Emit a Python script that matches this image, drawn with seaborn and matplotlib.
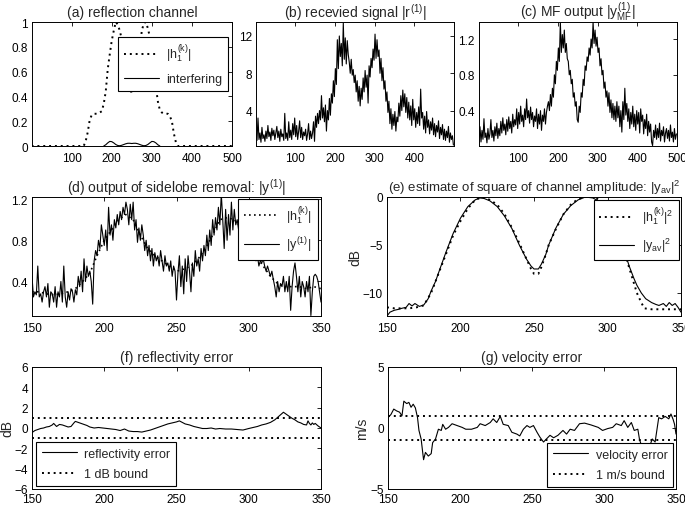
import numpy as np
import matplotlib
matplotlib.use("Agg")
import matplotlib.pyplot as plt
import seaborn as sns

# ---------------- data ----------------
# (a) reflection channel, sampled every 5 range bins from 0 to 500
a_x = np.arange(0, 501, 5)
a_h1 = ([0.0] * 26 +
        [0.0, 0.04, 0.11, 0.21, 0.25, 0.26, 0.26, 0.26, 0.27, 0.28,
         0.34, 0.44, 0.62, 0.74, 0.85, 0.93, 1.0, 0.98, 0.93, 0.86,
         0.77, 0.66, 0.56, 0.48, 0.42, 0.47, 0.56, 0.67, 0.79, 0.93,
         0.99, 1.0, 0.95, 0.88, 0.78, 0.64, 0.48, 0.36, 0.29, 0.27,
         0.26, 0.26, 0.26, 0.24, 0.2, 0.1, 0.03, 0.0] +
        [0.0] * 27)
a_int_x = np.arange(180, 321, 5)
a_int = [0.0, 0.01, 0.025, 0.037, 0.035, 0.025, 0.012, 0.004, 0.002, 0.006,
         0.012, 0.018, 0.022, 0.022, 0.02, 0.022, 0.022, 0.018, 0.012, 0.006,
         0.002, 0.004, 0.012, 0.025, 0.037, 0.035, 0.025, 0.01, 0.0]

# (b) received signal |r(1)|, every 2.5 bins
b_x = np.arange(200) * 2.5 + 1
b_r = [1.5, 0.8, 3.2, 0.9, 1.6, 0.6, 2.2, 1.0, 1.4, 0.7,
       1.8, 1.0, 2.4, 1.2, 1.7, 0.8, 2.1, 1.3, 1.9, 0.9,
       1.6, 2.3, 1.1, 1.8, 0.7, 2.0, 1.2, 1.5, 0.8, 3.7,
       1.0, 1.6, 0.8, 2.8, 1.1, 1.9, 0.9, 2.6, 1.4, 3.2,
       1.2, 2.4, 0.9, 1.8, 2.9, 1.1, 2.2, 0.9, 1.7, 1.3,
       2.0, 0.8, 1.5, 2.6, 0.9, 1.8, 1.0, 1.6, 2.8, 0.7,
       3.4, 2.2, 3.7, 2.6, 4.0, 3.0, 5.6, 3.2, 4.3, 2.8,
       4.6, 1.8, 4.0, 3.0, 5.3, 3.5, 5.8, 4.8, 7.2, 5.5,
       8.5, 6.8, 11.6, 8.5, 12.0, 9.8, 11.2, 8.8, 13.4, 9.5,
       11.8, 9.0, 11.5, 10.0, 9.2, 8.0, 9.5, 7.8, 8.4, 7.0,
       7.8, 6.0, 7.2, 5.0, 6.6, 4.5, 6.4, 5.2, 7.5, 6.0,
       8.3, 6.5, 7.8, 4.8, 8.8, 7.6, 9.6, 8.6, 10.6, 9.4,
       12.2, 9.6, 11.6, 9.8, 10.5, 8.0, 9.6, 7.2, 8.6, 6.3,
       7.2, 5.0, 6.0, 3.8, 5.0, 2.6, 4.2, 2.0, 3.6, 2.4,
       3.9, 1.8, 3.3, 2.8, 4.8, 3.4, 5.6, 4.0, 6.2, 4.4,
       5.8, 3.8, 5.4, 3.2, 4.9, 3.0, 4.5, 2.4, 5.2, 3.0,
       4.2, 2.2, 3.8, 2.6, 4.4, 2.4, 6.3, 3.2, 3.8, 2.0,
       3.4, 1.6, 3.9, 2.2, 3.0, 1.5, 2.8, 1.9, 3.2, 1.4,
       2.6, 1.2, 2.4, 1.7, 2.9, 1.0, 2.2, 1.4, 2.5, 0.9,
       2.0, 0.8, 1.8, 1.1, 2.3, 0.6, 1.6, 0.9, 1.3, 0.3]

# (c) matched-filter output, every 2.5 bins
c_x = np.arange(200) * 2.5 + 1
c_y = [0.10, 0.22, 0.05, 0.18, 0.08, 0.31, 0.10, 0.15, 0.04, 0.20,
       0.08, 0.14, 0.30, 0.10, 0.18, 0.06, 0.22, 0.12, 0.26, 0.09,
       0.20, 0.12, 0.28, 0.15, 0.32, 0.18, 0.25, 0.13, 0.30, 0.17,
       0.33, 0.20, 0.28, 0.15, 0.36, 0.22, 0.30, 0.24, 0.42, 0.20,
       0.38, 0.25, 0.45, 0.28, 0.35, 0.22, 0.42, 0.30, 0.53, 0.32,
       0.40, 0.26, 0.44, 0.30, 0.38, 0.22, 0.34, 0.28, 0.42, 0.20,
       0.36, 0.25, 0.40, 0.18, 0.35, 0.28, 0.42, 0.25, 0.38, 0.45,
       0.50, 0.40, 0.58, 0.45, 0.65, 0.55, 0.80, 0.70, 0.95, 0.85,
       1.10, 0.95, 1.39, 1.05, 1.25, 1.10, 1.30, 1.05, 1.15, 0.98,
       0.95, 0.80, 0.85, 0.70, 0.75, 0.55, 0.60, 0.45, 0.50, 0.30,
       0.27, 0.45, 0.38, 0.60, 0.55, 0.75, 0.68, 0.90, 0.85, 1.00,
       0.95, 1.10, 1.02, 1.20, 1.10, 1.39, 1.15, 1.30, 1.12, 1.22,
       1.05, 1.10, 0.90, 0.98, 0.80, 0.85, 0.65, 0.72, 0.55, 0.62,
       0.45, 0.60, 0.38, 0.52, 0.32, 0.48, 0.30, 0.45, 0.28, 0.50,
       0.32, 0.45, 0.22, 0.40, 0.16, 0.50, 0.30, 0.65, 0.35, 0.48,
       0.28, 0.42, 0.20, 0.38, 0.25, 0.45, 0.22, 0.36, 0.18, 0.40,
       0.25, 0.38, 0.15, 0.42, 0.28, 0.35, 0.14, 0.30, 0.20, 0.36,
       0.12, 0.28, 0.16, 0.25, 0.05, 0.01, 0.18, 0.10, 0.24, 0.08,
       0.20, 0.10, 0.26, 0.06, 0.18, 0.12, 0.22, 0.05, 0.15, 0.20,
       0.09, 0.18, 0.06, 0.24, 0.10, 0.16, 0.05, 0.20, 0.08, 0.14]

# (d) output of sidelobe removal, bins 150..350
d_x = np.arange(150, 351)
d_y = [0.45, 0.25, 0.30, 0.27, 0.55, 0.25, 0.28, 0.20, 0.30, 0.35,
       0.25, 0.38, 0.15, 0.30, 0.28, 0.20, 0.35, 0.15, 0.30, 0.25,
       0.40, 0.20, 0.55, 0.25, 0.15, 0.30, 0.22, 0.33, 0.30, 0.20,
       0.32, 0.27, 0.45, 0.35, 0.50, 0.30, 0.62, 0.40, 0.55, 0.45,
       0.50, 0.40, 0.18, 0.60, 0.70, 0.65, 0.80, 0.72, 0.95, 0.85,
       0.75, 0.90, 0.70, 1.12, 0.85, 0.95, 0.80, 1.00, 0.92, 1.05,
       0.95, 1.08, 1.00, 1.12, 1.05, 1.17, 1.10, 0.95, 1.15, 1.00,
       1.17, 0.90, 1.00, 0.78, 0.92, 0.80, 0.95, 0.85, 0.70, 0.80,
       0.65, 0.75, 0.60, 0.72, 0.55, 0.68, 0.60, 0.65, 0.55, 0.70,
       0.60, 0.50, 0.65, 0.55, 0.58, 0.50, 0.60, 0.45, 0.55, 0.50,
       0.22, 0.48, 0.65, 0.35, 0.55, 0.28, 0.62, 0.40, 0.65, 0.50,
       0.30, 0.58, 0.45, 0.70, 0.55, 0.62, 0.50, 0.72, 0.60, 0.75,
       0.65, 0.85, 0.70, 0.90, 0.75, 1.00, 0.85, 1.02, 0.90, 1.12,
       0.95, 1.25, 1.00, 0.72, 1.10, 0.80, 1.05, 0.85, 1.17, 0.90,
       1.10, 0.95, 1.00, 0.90, 1.05, 0.85, 0.95, 0.80, 0.90, 0.75,
       0.85, 0.70, 0.75, 0.65, 0.70, 0.60, 0.65, 0.55, 0.60, 0.58,
       0.62, 0.55, 0.50, 0.55, 0.50, 0.45, 0.50, 0.42, 0.35, 0.25,
       0.40, 0.30, 0.38, 0.35, 0.45, 0.30, 0.40, 0.30, 0.45, 0.12,
       0.35, 0.50, 0.58, 0.45, 0.30, 0.45, 0.25, 0.40, 0.35, 0.25,
       0.40, 0.30, 0.45, 0.07, 0.30, 0.45, 0.47, 0.45, 0.40, 0.30,
       0.20]
d_hx = np.arange(150, 351, 5)
d_h = [0.30, 0.30, 0.28, 0.27, 0.28, 0.30, 0.33, 0.40, 0.48, 0.65,
       0.80, 0.90, 1.00, 1.05, 1.00, 0.85, 0.72, 0.65, 0.60, 0.55,
       0.50, 0.52, 0.55, 0.62, 0.72, 0.85, 1.00, 1.02, 1.00, 0.92,
       0.80, 0.65, 0.55, 0.45, 0.38, 0.35, 0.35, 0.35, 0.33, 0.35,
       0.33]

# (e) square of channel amplitude in dB
e_x = [150, 152, 155, 158, 160, 163, 165, 167, 169, 172, 175, 178, 180, 183, 186,
       190, 195, 200, 205, 210, 213, 216, 220, 225, 230, 235, 240, 245, 248, 250,
       253, 255, 258, 260, 265, 270, 275, 280, 285, 290, 295, 300, 305, 310, 315,
       318, 320, 323, 326, 330, 333, 335, 338, 340, 342, 344, 346, 348, 350]
e_yav = [-12.4, -12.0, -11.8, -11.7, -11.6, -11.5, -11.1, -11.35, -11.1, -11.4,
         -11.25, -10.6, -9.8, -8.8, -7.5, -5.8, -3.8, -2.2, -1.0, -0.3,
         -0.1, -0.15, -0.4, -1.0, -2.0, -3.3, -5.0, -6.5, -7.2, -7.5,
         -7.5, -7.0, -6.0, -5.0, -3.2, -1.8, -0.9, -0.3, 0.0, -0.1,
         -0.5, -1.5, -3.0, -5.0, -7.3, -8.5, -9.2, -10.0, -10.6, -11.0,
         -11.2, -11.3, -11.1, -11.4, -11.0, -11.3, -11.1, -11.5, -12.0]
e_hx = [150, 155, 160, 165, 170, 175, 180, 185, 190, 195, 200, 205, 210, 215, 220,
        225, 230, 235, 240, 245, 248, 250, 253, 255, 258, 260, 265, 270, 275, 280,
        285, 290, 295, 300, 305, 310, 315, 318, 320, 323, 325, 330, 335, 340, 345, 350]
e_h = [-11.5, -11.6, -11.6, -11.6, -11.5, -11.3, -10.0, -8.0, -6.0, -4.0,
       -2.5, -1.2, -0.3, 0.0, -0.3, -0.8, -1.8, -3.2, -4.8, -6.5,
       -7.5, -8.0, -8.0, -7.3, -6.0, -5.0, -3.3, -1.8, -0.8, -0.2,
       0.0, 0.0, -0.3, -1.3, -2.8, -5.0, -7.5, -9.0, -10.0, -11.0,
       -11.6, -11.7, -11.7, -11.7, -11.7, -11.7]

# (f) reflectivity error (dB)
f_x = [150, 152, 154, 156, 158, 160, 162, 164, 165, 167, 169, 171, 173, 175, 177,
       179, 180, 182, 184, 186, 188, 190, 193, 196, 199, 202, 205, 208, 211, 214,
       217, 220, 223, 226, 229, 232, 235, 238, 241, 244, 247, 250, 252, 254, 256,
       259, 262, 265, 268, 271, 274, 277, 280, 284, 288, 292, 296, 300, 303, 306,
       309, 312, 315, 318, 320, 322, 324, 326, 328, 330, 332, 334, 336, 338, 340,
       341, 342, 343, 344, 345, 346, 348, 350]
f_err = [-0.45, -0.25, -0.15, -0.05, 0.0, 0.1, 0.15, 0.3, 0.45, 0.15,
         0.35, 0.3, 0.2, 0.1, 0.15, 0.5, 0.65, 0.55, 0.45, 0.35,
         0.25, 0.1, 0.0, 0.05, 0.0, -0.05, -0.1, -0.15, -0.25, -0.1,
         -0.3, -0.35, -0.35, -0.4, -0.3, -0.2, -0.05, 0.1, 0.25, 0.4,
         0.5, 0.6, 0.7, 0.55, 0.4, 0.3, 0.15, 0.05, -0.05, -0.05,
         0.0, -0.1, -0.05, -0.1, -0.1, -0.15, -0.2, -0.05, 0.05, 0.15,
         0.3, 0.4, 0.55, 0.8, 1.05, 1.3, 1.55, 1.35, 1.15, 0.95,
         0.8, 0.6, 0.5, 0.35, 0.3, 0.7, 0.45, 0.3, 0.5, 0.35,
         0.45, 0.2, 0.0]
f_bound = 1.0

# (g) velocity error (m/s)
g_x = [150, 152, 154, 156, 158, 159.7, 161, 163, 164.5, 166, 167.5, 169, 170.5,
       171.5, 173, 174.7, 176, 178, 180, 181, 183, 185, 187, 188, 190, 192, 194.5,
       198, 201.5, 204, 208, 212, 214, 217.5, 221, 223, 225.5, 228, 230, 233.5,
       236, 239.5, 241.5, 244, 246.5, 248.5, 251, 253.5, 255.5, 258, 260, 262.5,
       265, 268, 271.5, 274, 276.5, 279.5, 283, 286.5, 291, 296, 299, 302.5, 306,
       308.5, 312, 314, 316.5, 319, 321, 323.5, 324.6, 326, 328, 330, 332, 333.5,
       335.5, 338, 340, 342.5, 345, 346.5, 348, 349, 350]
g_err = [0.85, 1.1, 1.55, 1.4, 1.3, 1.0, 2.2, 2.0, 2.1, 1.7,
         1.95, 1.65, 0.85, -0.2, -0.9, -2.6, -2.0, -2.3, -2.1, -1.2,
         -0.9, -0.1, -0.2, 0.3, -0.1, 0.05, 0.35, 0.2, 0.05, -0.1,
         -0.1, 0.05, 0.35, 0.2, 0.45, 0.75, 0.45, 0.95, 0.3, 0.2,
         -0.35, -0.5, -0.65, -0.1, 0.2, 0.05, 0.2, -0.35, -0.75, -1.15,
         -0.9, -0.6, -0.8, -0.6, -0.2, -0.5, -0.1, -0.2, 0.35, 0.4,
         0.25, 0.05, -0.2, -0.05, 0.05, 0.35, 0.2, 0.6, 0.05, 0.45,
         -0.2, -0.1, -0.9, -1.45, -1.8, -1.6, -1.4, -0.9, -1.15, 0.85,
         0.75, 0.95, 0.75, 1.15, 0.7, 0.3, -0.5]
g_bound = 1.0

# ---------------- style ----------------
sns.set_style("white")
plt.rcParams["font.family"] = ["Liberation Sans", "DejaVu Sans"]
plt.rcParams["mathtext.fontset"] = "custom"
plt.rcParams["mathtext.rm"] = "Liberation Sans"
plt.rcParams["mathtext.it"] = "Liberation Sans"
plt.rcParams["mathtext.bf"] = "Liberation Sans:bold"
plt.rcParams["axes.unicode_minus"] = True

W, H = 685, 506
fig = plt.figure(figsize=(W / 100, H / 100), dpi=100)
fig.patch.set_facecolor("white")


def add_ax(x0, x1, y0, y1):
    return fig.add_axes([x0 / W, 1 - y1 / H, (x1 - x0) / W, (y1 - y0) / H])


def style(ax, title, xpad=4.5, tsize=10):
    for s in ax.spines.values():
        s.set_visible(True)
        s.set_color("black")
        s.set_linewidth(0.7)
    ax.tick_params(direction="in", top=True, right=True, length=3, width=0.6,
                   labelsize=8.5, pad=3, colors="black")
    ax.tick_params(axis="x", pad=xpad)
    ax.set_title(title, fontsize=tsize, pad=4)
    ax.set_xlabel("")
    ax.set_ylabel("")


DOT = (0, (1, 2))
LW = 0.8


def legend(ax, **kw):
    leg = ax.legend(frameon=True, fancybox=False, framealpha=1, edgecolor="black",
                    fontsize=9, handlelength=2.8, borderpad=0.45, labelspacing=0.7,
                    handletextpad=0.6, borderaxespad=0, **kw)
    leg.get_frame().set_linewidth(0.8)
    return leg


# (a)
ax = add_ax(32, 232, 23, 147)
sns.lineplot(x=a_x, y=a_h1, ax=ax, color="black", lw=1.4, linestyle=DOT,
             label=r"$|h_1^{(k)}|$")
sns.lineplot(x=a_int_x, y=a_int, ax=ax, color="black", lw=LW, label="interfering")
ax.set_xlim(1, 500)
ax.set_ylim(0, 1)
ax.set_xticks([100, 200, 300, 400, 500])
ax.set_yticks([0, 0.2, 0.4, 0.6, 0.8, 1])
ax.set_yticklabels(["0", "0.2", "0.4", "0.6", "0.8", "1"])
style(ax, "(a) reflection channel")
legend(ax, loc="upper right", bbox_to_anchor=(0.98, 0.88))

# (b)
ax = add_ax(256, 454, 23, 147)
sns.lineplot(x=b_x, y=b_r, ax=ax, color="black", lw=LW)
ax.set_xlim(1, 500)
ax.set_ylim(0.2, 13.5)
ax.set_xticks([100, 200, 300, 400])
ax.set_yticks([4, 8, 12])
style(ax, r"(b) recevied signal $|r^{(1)}|$")

# (c)
ax = add_ax(479, 677, 23, 147)
sns.lineplot(x=c_x, y=c_y, ax=ax, color="black", lw=LW)
ax.set_xlim(1, 500)
ax.set_ylim(0.005, 1.39)
ax.set_xticks([100, 200, 300, 400, 500])
ax.set_yticks([0.4, 0.8, 1.2])
style(ax, r"(c) MF output $|y^{(1)}_{\mathrm{MF}}|$")

# (d)
ax = add_ax(32, 321, 198, 317)
sns.lineplot(x=d_hx, y=d_h, ax=ax, color="black", lw=1.2, linestyle=DOT,
             label=r"$|h_1^{(k)}|$")
sns.lineplot(x=d_x, y=d_y, ax=ax, color="black", lw=LW, label=r"$|y^{(1)}|$")
ax.set_xlim(150, 350)
ax.set_ylim(0.065, 1.22)
ax.set_xticks([150, 200, 250, 300, 350])
ax.set_yticks([0.4, 0.8, 1.2])
style(ax, r"(d) output of sidelobe removal: $|y^{(1)}|$")
legend(ax, loc="upper right", bbox_to_anchor=(0.988, 0.985))

# (e)
ax = add_ax(387, 681, 198, 317)
sns.lineplot(x=e_hx, y=e_h, ax=ax, color="black", lw=1.4, linestyle=DOT,
             label=r"$|h_1^{(k)}|^2$")
sns.lineplot(x=e_x, y=e_yav, ax=ax, color="black", lw=LW,
             label=r"$|y_{\mathrm{av}}|^2$")
ax.set_xlim(150, 350)
ax.set_ylim(-12.4, 0)
ax.set_xticks([150, 200, 250, 300, 350])
ax.set_yticks([-10, -5, 0])
style(ax, r"(e) estimate of square of channel amplitude: $|y_{\mathrm{av}}|^2$",
      tsize=9.5)
ax.set_ylabel("dB", fontsize=10, labelpad=0)
legend(ax, loc="upper right", bbox_to_anchor=(0.993, 0.975))

# (f)
ax = add_ax(32, 321, 368, 490)
sns.lineplot(x=f_x, y=f_err, ax=ax, color="black", lw=LW, label="reflectivity error")
sns.lineplot(x=[150, 350], y=[f_bound, f_bound], ax=ax, color="black", lw=1.4,
             linestyle=DOT, label="1 dB bound")
sns.lineplot(x=[150, 350], y=[-f_bound, -f_bound], ax=ax, color="black", lw=1.4,
             linestyle=DOT)
ax.set_xlim(150, 350)
ax.set_ylim(-6, 6)
ax.set_xticks([150, 200, 250, 300, 350])
ax.set_yticks([-6, -4, -2, 0, 2, 4, 6])
style(ax, "(f) reflectivity error", xpad=3)
ax.set_ylabel("dB", fontsize=10, labelpad=0)
legend(ax, loc="lower left", bbox_to_anchor=(0.014, 0.025))

# (g)
ax = add_ax(388, 676, 368, 490)
sns.lineplot(x=g_x, y=g_err, ax=ax, color="black", lw=LW, label="velocity error")
sns.lineplot(x=[150, 350], y=[g_bound, g_bound], ax=ax, color="black", lw=1.4,
             linestyle=DOT, label="1 m/s bound")
sns.lineplot(x=[150, 350], y=[-g_bound, -g_bound], ax=ax, color="black", lw=1.4,
             linestyle=DOT)
ax.set_xlim(150, 350)
ax.set_ylim(-5, 5)
ax.set_xticks([150, 200, 250, 300, 350])
ax.set_yticks([-5, 0, 5])
style(ax, "(g) velocity error", xpad=3)
ax.set_ylabel("m/s", fontsize=10, labelpad=1)
legend(ax, loc="lower right", bbox_to_anchor=(0.99, 0.016))

fig.savefig("out.png", dpi=100)
